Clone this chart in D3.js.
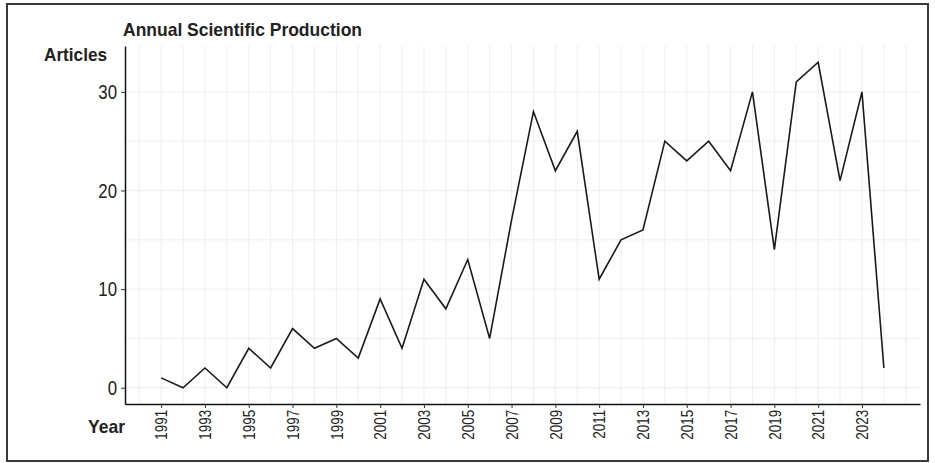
<!DOCTYPE html>
<html>
<head>
<meta charset="utf-8">
<script src="https://cdn.jsdelivr.net/npm/d3@7"></script>
<style>
  body { margin: 0; background: #fff; }
  text { font-family: "Liberation Sans", Arial, sans-serif; }
</style>
</head>
<body>
<div id="chart"></div>
<script>
// articles per year
const years = [1991, 1992, 1993, 1994, 1995, 1996, 1997, 1998, 1999, 2000,
               2001, 2002, 2003, 2004, 2005, 2006, 2007, 2008, 2009, 2010,
               2011, 2012, 2013, 2014, 2015, 2016, 2017, 2018, 2019, 2020,
               2021, 2022, 2023, 2024];
const articles = [1, 0, 2, 0, 4, 2, 6, 4, 5, 3,
                  9, 4, 11, 8, 13, 5, 17, 28, 22, 26,
                  11, 15, 16, 25, 23, 25, 22, 30, 14, 31,
                  33, 21, 30, 2];
const yTicks = [0, 10, 20, 30];
const xTicks = d3.range(1991, 2024, 2);

const width = 935, height = 463;
const margin = {top: 46, right: 15, bottom: 60, left: 125};

const svg = d3.select("#chart").append("svg")
    .attr("width", width)
    .attr("height", height);

// outer frame
svg.append("rect")
    .attr("x", 7).attr("y", 4)
    .attr("width", 921).attr("height", 457)
    .attr("fill", "none")
    .attr("stroke", "#3a3a3a")
    .attr("stroke-width", 2);

const data = years.map((y, i) => ({year: y, n: articles[i]}));

// ggplot-style 5% expansion
const xPad = (d3.max(years) - d3.min(years)) * 0.05;
const yPad = d3.max(articles) * 0.05;

const x = d3.scaleLinear()
    .domain([d3.min(years) - xPad, d3.max(years) + xPad])
    .range([margin.left, width - margin.right]);

const y = d3.scaleLinear()
    .domain([-yPad, d3.max(articles) + yPad])
    .range([height - margin.bottom + 1, margin.top]);

// grid, every year and every 5 articles
const grid = svg.append("g").attr("stroke", "#eeeeee").attr("stroke-width", 1);
grid.selectAll("line.v").data(d3.range(1990, 2026))
  .enter().append("line")
    .attr("class", "v")
    .attr("x1", d => x(d)).attr("x2", d => x(d))
    .attr("y1", y.range()[0]).attr("y2", y.range()[1]);
grid.selectAll("line.h").data(d3.range(0, 35, 5))
  .enter().append("line")
    .attr("class", "h")
    .attr("y1", d => y(d)).attr("y2", d => y(d))
    .attr("x1", x.range()[0]).attr("x2", x.range()[1]);

// the line
svg.append("path")
    .datum(data)
    .attr("fill", "none")
    .attr("stroke", "#1a1a1a")
    .attr("stroke-width", 1.6)
    .attr("d", d3.line().x(d => x(d.year)).y(d => y(d.n)));

// axes
const xAxis = svg.append("g")
    .attr("transform", `translate(0,${y.range()[0]})`)
    .call(d3.axisBottom(x).tickValues(xTicks).tickFormat(d3.format("d")).tickSize(4).tickSizeOuter(0));
xAxis.select(".domain").attr("stroke", "#111").attr("stroke-width", 1.5);
xAxis.selectAll(".tick line").attr("stroke", "#333");
// narrow-looking labels: squeeze along the text direction
xAxis.selectAll(".tick text")
    .attr("font-size", 16)
    .attr("fill", "#222")
    .attr("transform", "rotate(-90) scale(0.84,1)")
    .attr("text-anchor", "end")
    .attr("x", -7).attr("y", 0)
    .attr("dy", "0.36em");

const yAxis = svg.append("g")
    .attr("transform", `translate(${x.range()[0]},0)`)
    .call(d3.axisLeft(y).tickValues(yTicks).tickSize(4).tickSizeOuter(0));
yAxis.select(".domain").attr("stroke", "#111").attr("stroke-width", 1.5);
yAxis.selectAll(".tick line").attr("stroke", "#333");
yAxis.selectAll(".tick text")
    .attr("font-size", 20.5)
    .attr("fill", "#222")
    .attr("transform", "scale(0.82,1)")
    .attr("x", -8 / 0.82);

// labels
svg.append("text")
    .attr("x", 123).attr("y", 36)
    .attr("font-size", 19).attr("font-weight", "bold").attr("fill", "#222")
    .attr("textLength", 239).attr("lengthAdjust", "spacingAndGlyphs")
    .text("Annual Scientific Production");
svg.append("text")
    .attr("x", 44).attr("y", 61)
    .attr("font-size", 19).attr("font-weight", "bold").attr("fill", "#222")
    .attr("textLength", 63).attr("lengthAdjust", "spacingAndGlyphs")
    .text("Articles");
svg.append("text")
    .attr("x", 88).attr("y", 433)
    .attr("font-size", 19).attr("font-weight", "bold").attr("fill", "#222")
    .attr("textLength", 37).attr("lengthAdjust", "spacingAndGlyphs")
    .text("Year");
</script>
</body>
</html>
